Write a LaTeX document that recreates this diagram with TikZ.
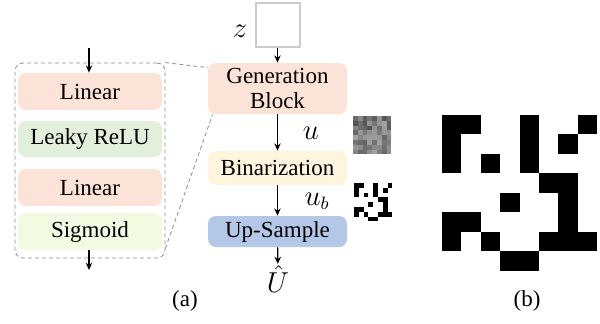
\documentclass[tikz,border=0pt]{standalone}
\usepackage{fontspec}
\setmainfont{Liberation Serif}
\usetikzlibrary{arrows.meta}
\definecolor{linfill}{HTML}{FBE4D7}
\definecolor{relufill}{HTML}{E2EFDA}
\definecolor{sigfill}{HTML}{F2FAE2}
\definecolor{binfill}{HTML}{FFF4DE}
\definecolor{upfill}{HTML}{B4C7E7}
% black cells of the 8x8 binary code (col/row)
\newcommand{\bincells}{0/0,1/0,0/1,0/2,2/2,4/0,4/1,4/2,7/0,6/1,5/3,6/3,3/4,6/4,0/5,1/5,6/5,0/6,2/6,5/6,6/6,7/6,3/7,4/7}

\begin{document}
\begin{tikzpicture}[
  x=0.5pt, y=-0.5pt,
  >={Stealth[length=3.6pt,width=3.2pt]}, font=\fontsize{11.5}{12.5}\selectfont,
  blk/.style={rectangle, rounded corners=4pt, align=center, inner sep=0pt, minimum width=72pt},
  lin/.style={blk, fill=linfill, minimum height=18.5pt},
  relu/.style={blk, fill=relufill, minimum height=18pt},
  sig/.style={blk, fill=sigfill, minimum height=18.5pt},
  gblk/.style={blk, minimum width=69.5pt},
  e/.style={->, line width=0.6pt},
  zoomln/.style={draw=black!45, dashed, line width=0.4pt, dash pattern=on 2pt off 1.5pt},
  lbl/.style={inner sep=0pt},
  mlbl/.style={inner sep=0.5pt, font=\fontsize{13.5}{14}\selectfont},
]
\useasboundingbox (0,0) rectangle (600,323);

% generation block internals
\node[rectangle, rounded corners=4pt, zoomln, minimum width=75pt, minimum height=97.5pt] (outer) at (90,160.5) {};
\node[lin]  (lin1) at (90,91.5)  {Linear};
\node[relu] (relu) at (90,139)   {Leaky ReLU};
\node[lin]  (lin2) at (90,187.5) {Linear};
\node[sig]  (sig)  at (90,231.5) {Sigmoid};
\coordinate (in)  at (89,48);
\coordinate (out) at (89,270);
\draw[e] (in) -- (lin1.north -| in);
\draw[e] (sig.south -| out) -- (out);

% pipeline
\node[rectangle, draw=black!20, line width=0.6pt, minimum size=22pt, inner sep=0pt] (zbox) at (278,25) {};
\node[mlbl] (zlab) at (240,31) {$z$};
\node[gblk, fill=linfill, minimum height=25.5pt] (gen) at (277.5,88.5) {Generation\\Block};
\node[gblk, fill=binfill, minimum height=17pt] (bin) at (277.5,168) {Binarization};
\node[gblk, fill=upfill, minimum height=15.5pt] (up) at (277.5,231.5) {Up-Sample};
\node[mlbl] (ulab)  at (311,133) {$u$};
\node[mlbl] (ublab) at (317,201) {$u_b$};
\node[mlbl] (Uhat)  at (278,279) {$\hat{U}$};

\draw[e] (zbox.south -| gen) -- (gen.north);
\draw[e] (gen) -- (bin);
\draw[e] (bin) -- (up);
\draw[e] (up) -- (Uhat);

% zoom lines
\draw[zoomln] (outer.north east) -- ([yshift=-2.5pt]gen.north west);
\draw[zoomln] ([yshift=5pt]outer.south east) -- ([xshift=2.5pt]gen.south west);

% noise map u
\pgfmathsetseed{11}
\foreach \c in {0,...,7}
  \foreach \r in {0,...,7} {
    \pgfmathsetmacro\g{round(35+35*rnd)}
    \fill[black!\g] (353+\c*4.8,116+\r*4.8) rectangle ++(4.8,4.8);
  }

% binary map u_b (small)
\foreach \c/\r in \bincells
  \fill (354+\c*4.8,183+\r*4.8) rectangle ++(4.8,4.8);

% binary map (b)
\foreach \c/\r in \bincells
  \fill (441.7+\c*19.45,115+\r*19.45) rectangle ++(19.45,19.45);

\node[lbl] (capa) at (185,301) {(a)};
\node[lbl] (capb) at (527,301) {(b)};
\end{tikzpicture}
\end{document}
